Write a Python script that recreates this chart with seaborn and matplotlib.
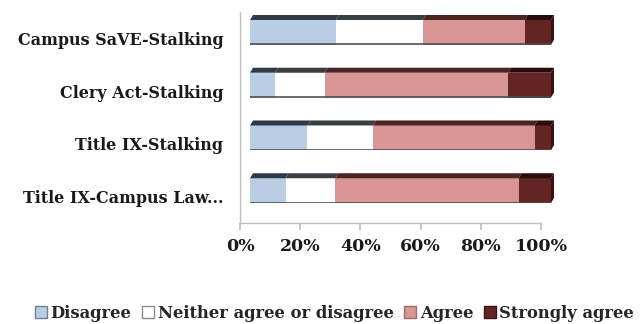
import numpy as np
import pandas as pd
import matplotlib
matplotlib.use("Agg")
import matplotlib.pyplot as plt
from matplotlib.patches import Polygon, Patch
from matplotlib.transforms import ScaledTranslation, IdentityTransform
import seaborn as sns

# Survey responses (percent of respondents) per policy item
items = ["Campus SaVE-Stalking", "Clery Act-Stalking", "Title IX-Stalking", "Title IX-Campus Law..."]
disagree = [28.5, 8.3, 19.1, 11.8]
neither = [29.0, 16.6, 21.8, 16.6]
agree = [33.8, 60.9, 53.7, 60.9]
strongly_agree = [8.7, 14.2, 5.4, 10.7]

responses = ["Disagree", "Neither agree or disagree", "Agree", "Strongly agree"]
front_colors = ["#B9CDE5", "#FFFFFF", "#D99694", "#632523"]
top_colors = ["#2F3A46", "#3A3D42", "#4A2323", "#2A0C0C"]
legend_edges = ["#6F7F92", "#8C8C8C", "#9C6B6A", "#3D1414"]

sns.set_theme(style="white")
plt.rcParams["font.family"] = ["DejaVu Serif"]
plt.rcParams["font.weight"] = "bold"

df = pd.DataFrame({"item": items, "Disagree": disagree, "Neither agree or disagree": neither,
                   "Agree": agree, "Strongly agree": strongly_agree})
seg = df[responses].to_numpy()
cum = np.cumsum(seg, axis=1)
starts = cum - seg

fig = plt.figure(figsize=(6.41, 3.24), dpi=100)
ax = fig.add_axes([240 / 641, 101 / 324, 301 / 641, 211 / 324])

bar_w = 0.47
# stacked bars: draw cumulative totals from the back layer to the front layer
for k in range(len(responses) - 1, -1, -1):
    layer = pd.DataFrame({"item": items, "value": cum[:, k]})
    sns.barplot(data=layer, x="value", y="item", color=front_colors[k], width=bar_w,
                saturation=1, linewidth=0, ax=ax, orient="h")

ax.set_xlim(0, 100)
ax.set_ylim(len(items) - 0.5, -0.5)
ax.set_xticks(np.arange(0, 101, 20))
ax.set_xticklabels([f"{v}%" for v in range(0, 101, 20)], fontsize=12.5, fontweight="bold",
                   color="#1a1a1a")
ax.set_yticks(range(len(items)))
ax.set_yticklabels(items, fontsize=11.5, fontweight="bold", color="#1a1a1a")
ax.set_xlabel("")
ax.set_ylabel("")
for s in ["top", "right"]:
    ax.spines[s].set_visible(False)
for s in ["left", "bottom"]:
    ax.spines[s].set_color("#BFBFBF")
    ax.spines[s].set_linewidth(1.0)
ax.tick_params(axis="x", bottom=True, length=5, color="#BFBFBF", pad=6)
ax.tick_params(axis="y", left=False, length=0, pad=12)

# oblique projection: front faces sit slightly right of and above the axis grid
dx_front, dy_front = 10, 6
dx_depth, dy_depth = 3, 5
shift = ScaledTranslation(dx_front / 100, dy_front / 100, fig.dpi_scale_trans)
for p in ax.patches:
    p.set_transform(ax.transData + shift)
    p.set_clip_on(False)

fig.canvas.draw()
ident = IdentityTransform()
for i in range(len(items)):
    for k in range(len(responses)):
        a, b = starts[i, k], cum[i, k]
        (xa, yt), (xb, _) = ax.transData.transform([(a, i - bar_w / 2), (b, i - bar_w / 2)])
        (_, yb), = ax.transData.transform([(a, i + bar_w / 2)])
        xa += dx_front; xb += dx_front; yt += dy_front; yb += dy_front
        top = Polygon([(xa, yt), (xb, yt), (xb + dx_depth, yt + dy_depth), (xa + dx_depth, yt + dy_depth)],
                      closed=True, facecolor=top_colors[k], edgecolor="none", transform=ident)
        fig.add_artist(top)
        base = Polygon([(xa, yb), (xb, yb), (xb, yb + 1.3), (xa, yb + 1.3)], closed=True,
                       facecolor="#4A4A4A", edgecolor="none", transform=ident, alpha=0.8)
        fig.add_artist(base)
        if k == len(responses) - 1:
            side = Polygon([(xb, yb), (xb, yt), (xb + dx_depth, yt + dy_depth), (xb + dx_depth, yb + dy_depth)],
                           closed=True, facecolor="#3D1010", edgecolor="none", transform=ident)
            fig.add_artist(side)

handles = [Patch(facecolor=c, edgecolor=e, linewidth=1.0) for c, e in zip(front_colors, legend_edges)]
fig.legend(handles, responses, loc="center", bbox_to_anchor=(0.522, 1 - 313 / 324), ncol=4,
           frameon=False, prop={"family": "DejaVu Serif", "weight": "bold", "size": 11.8},
           handlelength=0.75, handleheight=0.75, handletextpad=0.2, columnspacing=0.65,
           borderaxespad=0, borderpad=0)

fig.savefig("out.png", dpi=100, facecolor="white")
